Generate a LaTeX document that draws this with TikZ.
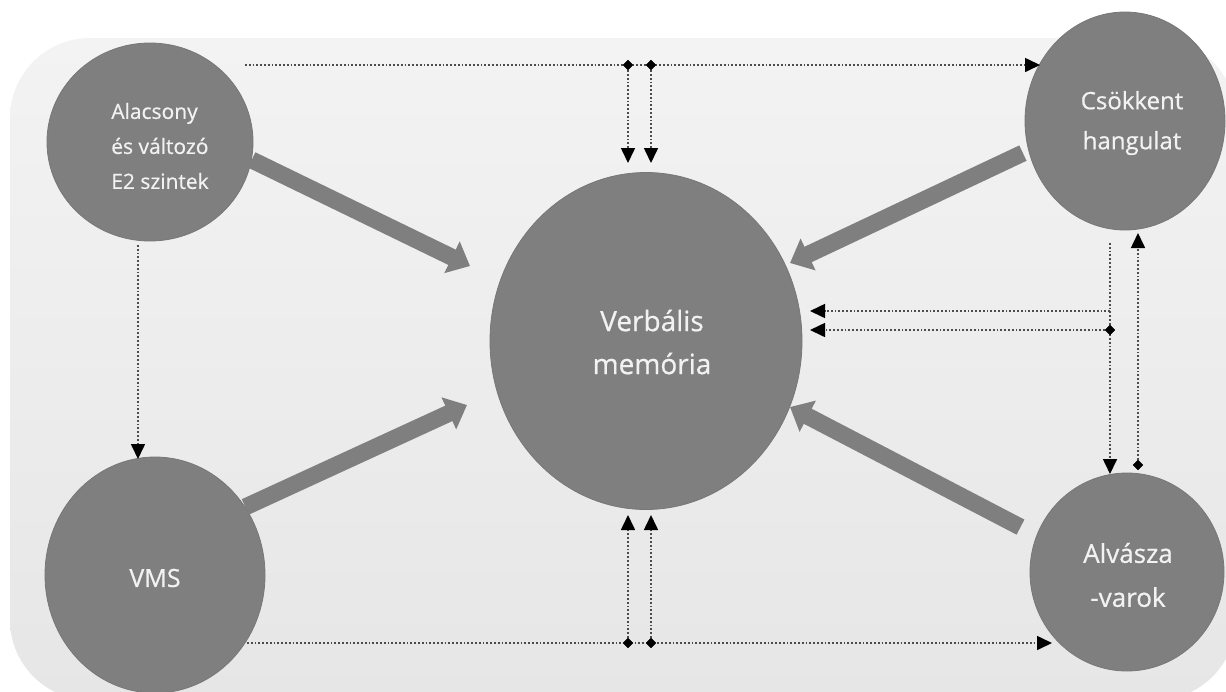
\documentclass[tikz,border=0pt]{standalone}
\usepackage{fontspec}
\setmainfont{Open Sans}
\newfontfamily\lblfont{Open Sans}[FakeBold=0.7]
\usetikzlibrary{arrows.meta,shapes.geometric}

\definecolor{blobgray}{HTML}{7F7F7F}
\definecolor{blobedge}{HTML}{777777}
\definecolor{labelcol}{HTML}{F2F2F2}
\definecolor{dotcol}{HTML}{4C4C4C}
\definecolor{bgtop}{HTML}{F3F3F3}
\definecolor{bgbottom}{HTML}{E6E6E6}

\begin{document}
\begin{tikzpicture}[x=1pt,y=-1pt,
  blob/.style={ellipse, fill=blobgray, draw=blobedge, line width=0.8pt, inner sep=0pt},
  lbl/.style={text=labelcol, inner sep=0pt},
  bigarrow/.style={draw=blobgray, line width=17pt, -{Triangle[width=34pt,length=20pt]}},
  dotline/.style={draw=dotcol, line width=1.6pt, dash pattern=on 1.8pt off 2pt},
  dotarrow/.style={dotline, -{Triangle[width=14pt,length=15pt,color=black,fill=black]}},
  junction/.style={diamond, fill=black, inner sep=0pt, minimum width=10pt, minimum height=10pt}
]
\useasboundingbox (0,0) rectangle (1226,691);

% panel behind the diagram
\shade[top color=bgtop, bottom color=bgbottom, rounded corners=80pt]
  (10,38) rectangle (1236,700);

% circles
\node[blob, minimum width=206pt, minimum height=198pt] (tl)  at (150,142) {};
\node[blob, minimum width=220pt, minimum height=236pt] (vms) at (155,575) {};
\node[blob, minimum width=312pt, minimum height=337pt] (mem) at (646,341) {};
\node[blob, minimum width=200pt, minimum height=218pt] (tr)  at (1125,121) {};
\node[blob, minimum width=194pt, minimum height=198pt] (br)  at (1127,572) {};

% labels
\node[lbl, align=left, font=\lblfont\fontsize{21}{35}\selectfont] (tltext) at (160,146)
  {Alacsony\\és változó\\E2 szintek};
\node[lbl, font=\lblfont\fontsize{25}{30}\selectfont] (vmstext) at (155,578) {VMS};
\node[lbl, align=center, font=\lblfont\fontsize{28}{43}\selectfont] (memtext) at (652,342)
  {Verbális\\memória};
\node[lbl, align=center, font=\lblfont\fontsize{24}{40}\selectfont] (trtext) at (1132,123)
  {Csökkent\\hangulat};
\node[lbl, align=center, font=\lblfont\fontsize{26}{44}\selectfont] (brtext) at (1128,575)
  {Alvásza\\-varok};

% tips of the thick arrows
\coordinate (a1) at (470,266);
\coordinate (a2) at (467,405);
\coordinate (a3) at (790,263);
\coordinate (a4) at (790,407);

\draw[bigarrow] (tl.-10) -- (a1);
\draw[bigarrow] (vms.37) -- (a2);
\draw[bigarrow, shorten <=6pt] (tr.197) -- (a3);
\draw[bigarrow, shorten <=18pt] (br.158) -- (a4);

% dotted connectors
\coordinate (topS) at (245,65);
\coordinate (topE) at (1040,65);
\coordinate (botS) at (247,643);
\coordinate (botE) at (1052,643);
\coordinate (m1) at (628,163);
\coordinate (m2) at (651,163);
\coordinate (m3) at (628,515);
\coordinate (m4) at (651,515);
\coordinate (rS) at (1110,243);
\coordinate (rE) at (1110,474);
\coordinate (rH) at (1110,311);
\coordinate (h1) at (810,311);
\coordinate (h2) at (810,330);
\coordinate (up) at (1138,233);
\coordinate (lS) at (138,245);
\coordinate (lE) at (138,459);

\node[junction] (j1) at (628,65) {};
\node[junction] (j2) at (651,65) {};
\node[junction] (j3) at (628,643) {};
\node[junction] (j4) at (651,643) {};
\node[junction] (j5) at (1110,330) {};
\node[junction] (j6) at (1138,465) {};

\draw[dotarrow] (topS) -- (topE);
\draw[dotarrow] (botS) -- (botE);
\draw[dotarrow] (j1) -- (m1);
\draw[dotarrow] (j2) -- (m2);
\draw[dotarrow] (j3) -- (m3);
\draw[dotarrow] (j4) -- (m4);
\draw[dotarrow] (rS) -- (rE);
\draw[dotarrow] (rH) -- (h1);
\draw[dotarrow] (j5) -- (h2);
\draw[dotarrow] (j6) -- (up);
\draw[dotarrow] (lS) -- (lE);

% junction marks on top of the lines
\foreach \j in {j1,j2,j3,j4,j5,j6}
  \fill (\j.north) -- (\j.east) -- (\j.south) -- (\j.west) -- cycle;
\end{tikzpicture}
\end{document}
